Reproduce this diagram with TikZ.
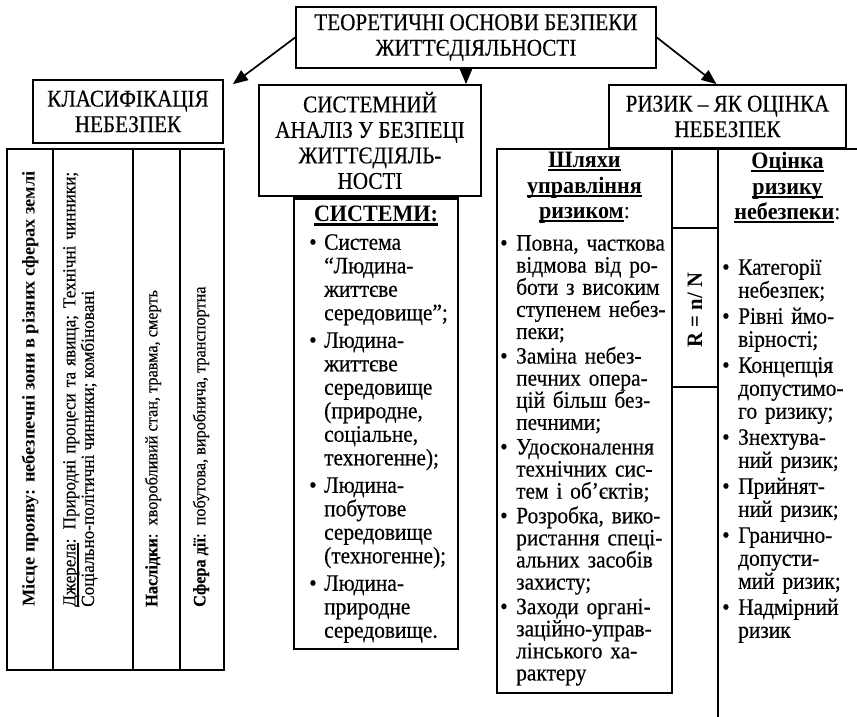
\documentclass[tikz,border=0pt]{standalone}
\usepackage{fontspec}
\setmainfont{Liberation Serif}
\newfontfamily\condfam[FakeStretch=0.88,FakeBold=0.4]{Liberation Serif}
\newfontfamily\bodyfam[FakeStretch=0.91,FakeBold=0.4]{Liberation Serif}
\newfontfamily\headfam[FakeStretch=0.94]{Liberation Serif}
\newfontfamily\rotfam[FakeStretch=1.02]{Liberation Serif}
\newfontfamily\rotlfam[FakeStretch=0.93,FakeBold=0.4]{Liberation Serif}
\usetikzlibrary{arrows.meta}
\newcommand\ttl{\condfam\fontsize{24}{25.5}\selectfont}
\newcommand\bdy{\bodyfam\fontsize{23.5}{23}\selectfont}
\newcommand\hdf{\headfam\fontsize{23.5}{25.5}\selectfont\bfseries}
\newcommand\rotf{\rotlfam\fontsize{18.5}{18.5}\selectfont}
\newcommand\rots{\rotlfam\fontsize{17.5}{17.5}\selectfont}
\newlength\hind
\newlength\isep \setlength\isep{3pt}
\newcommand\ulx[1]{\setbox0\hbox{#1}\rlap{\rule[-3.5pt]{\wd0}{1.6pt}}\box0}
\newcommand\ulxx[1]{\setbox0\hbox{#1}\rlap{\rule[-4pt]{\wd0}{2.4pt}}\box0}
\newcommand\gap{\vspace{\isep}}
\newcommand\bj[1]{\noindent\makebox[\hind][l]{\textbullet}\makebox[\dimexpr\linewidth-\hind\relax][s]{#1}\par}
\newcommand\br[1]{\noindent\makebox[\hind][l]{\textbullet}#1\par}
\newcommand\lj[1]{\noindent\hspace*{\hind}\makebox[\dimexpr\linewidth-\hind\relax][s]{#1}\par}
\newcommand\lr[1]{\noindent\hspace*{\hind}#1\par}
\begin{document}
\begin{tikzpicture}[x=1pt,y=-1pt,
  box/.style={draw,line width=1.7pt,inner sep=0pt,align=center,font=\ttl},
  arr/.style={line width=1.7pt,-{Triangle[length=15pt,width=12pt]}},
  tline/.style={line width=1.6pt},
  col/.style={inner sep=0pt,anchor=north west,font=\bdy},
  rot/.style={rotate=90,inner sep=0pt,font=\rotf}]
\useasboundingbox (0,0) rectangle (857,717);
% top level boxes
\node[box,minimum width=360pt,minimum height=61pt] (top) at (476,37.5) {ТЕОРЕТИЧНІ ОСНОВИ БЕЗПЕКИ\\ЖИТТЄДІЯЛЬНОСТІ};
\node[box,minimum width=190pt,minimum height=63pt] (klas) at (128,111.5) {КЛАСИФІКАЦІЯ\\НЕБЕЗПЕК};
\node[box,minimum width=222pt,minimum height=111pt] (sys) at (370,140.5) {СИСТЕМНИЙ\\АНАЛІЗ У БЕЗПЕЦІ\\ЖИТТЄДІЯЛЬ-\\НОСТІ};
\node[box,minimum width=237pt,minimum height=63pt] (riz) at (727.5,116.5) {РИЗИК – ЯК ОЦІНКА\\НЕБЕЗПЕК};
% arrows
\coordinate (mtip) at (466,0);
\draw[arr] (top.west) -- ([xshift=9pt,yshift=-5pt]klas.north east);
\draw[arr] (top.south -| mtip) -- (sys.north -| mtip);
\draw[arr] (top.east) -- ([xshift=-11pt]riz.north);
% left table
\draw[tline] (7,149) rectangle (224,670);
\draw[tline] (53,149) -- (53,670) (133,149) -- (133,670) (180,149) -- (180,670);
\node[rot,anchor=west,font=\rotfam\fontsize{18}{18}\selectfont\bfseries] (mis) at (30,607) {Місце прояву: небезпечні зони в різних сферах землі};
\node[rot,anchor=north west,align=left] (dzh) at (63,607) {\makebox[435pt][s]{\ulx{Джерела}: Природні процеси та явища; Технічні чинники;}\\Соціально-політичні чинники; комбіновані};
\node[rot,anchor=west,font=\rots] (nasl) at (153,607) {\textbf{Наслідки}:\ \ хворобливий стан, травма, смерть};
\node[rot,anchor=west,font=\rots] (sfera) at (201,607) {\textbf{Сфера дії}:\ \ побутова, виробнича, транспортна};
% systems box
\draw[tline] (294,198) rectangle (458,649);
\draw[line width=3pt] (294,198) -- (458,198);
\node[inner sep=0pt,anchor=north,font=\hdf] (sysh) at (376,206) {\ulxx{СИСТЕМИ:}};
\node[col,text width=145pt,font=\bodyfam\fontsize{23.5}{23.5}\selectfont] (syslist) at (309,234) {\setlength\hind{15pt}\setlength\isep{4pt}%
\br{Система}\lr{“Людина-}\lr{життєве}\lr{середовище”;}\gap
\br{Людина-}\lr{життєве}\lr{середовище}\lr{(природне,}\lr{соціальне,}\lr{техногенне);}\gap
\br{Людина-}\lr{побутове}\lr{середовище}\lr{(техногенне);}\gap
\br{Людина-}\lr{природне}\lr{середовище.}};
% right table
\draw[tline] (497,149) rectangle (672,693);
\draw[tline] (672,149) -- (857,149);
\draw[tline] (718,149) -- (718,717);
\draw[tline] (672,228) -- (718,228) (672,387) -- (718,387);
\node[rot,font=\headfam\fontsize{22}{22}\selectfont\bfseries] (rn) at (695,310) {R = n/ N};
\node[inner sep=0pt,anchor=north,align=center,font=\hdf] (shh) at (584.5,152) {\ulx{Шляхи}\\\ulx{управління}\\\ulx{ризиком}\textmd{:}};
\node[col,text width=168pt,font=\bodyfam\fontsize{23.5}{22.1}\selectfont] (shl) at (500,235) {\setlength\hind{16pt}\setlength\isep{2.5pt}%
\bj{Повна, часткова}\lj{відмова від ро-}\lj{боти з високим}\lj{ступенем небез-}\lr{пеки;}\gap
\bj{Заміна небез-}\lj{печних опера-}\lj{цій більш без-}\lr{печними;}\gap
\br{Удосконалення}\lj{технічних сис-}\lr{тем і об’єктів;}\gap
\bj{Розробка, вико-}\lj{ристання спеці-}\lj{альних засобів}\lr{захисту;}\gap
\bj{Заходи органі-}\lr{заційно-управ-}\lj{лінського ха-}\lr{рактеру}};
\node[inner sep=0pt,anchor=north,align=center,font=\hdf] (och) at (787.5,152) {\ulx{Оцінка}\\\ulx{ризику}\\\ulx{небезпеки}\textmd{:}};
\node[col,text width=130pt] (ocl) at (722,259) {\setlength\hind{16pt}%
\br{Категорії}\lr{небезпек;}\gap
\bj{Рівні ймо-}\lr{вірності;}\gap
\br{Концепція}\lr{допустимо-}\lr{го ризику;}\gap
\br{Знехтува-}\lr{ний ризик;}\gap
\br{Прийнят-}\lr{ний ризик;}\gap
\br{Гранично-}\lr{допусти-}\lr{мий ризик;}\gap
\br{Надмірний}\lr{ризик}};
\end{tikzpicture}
\end{document}
